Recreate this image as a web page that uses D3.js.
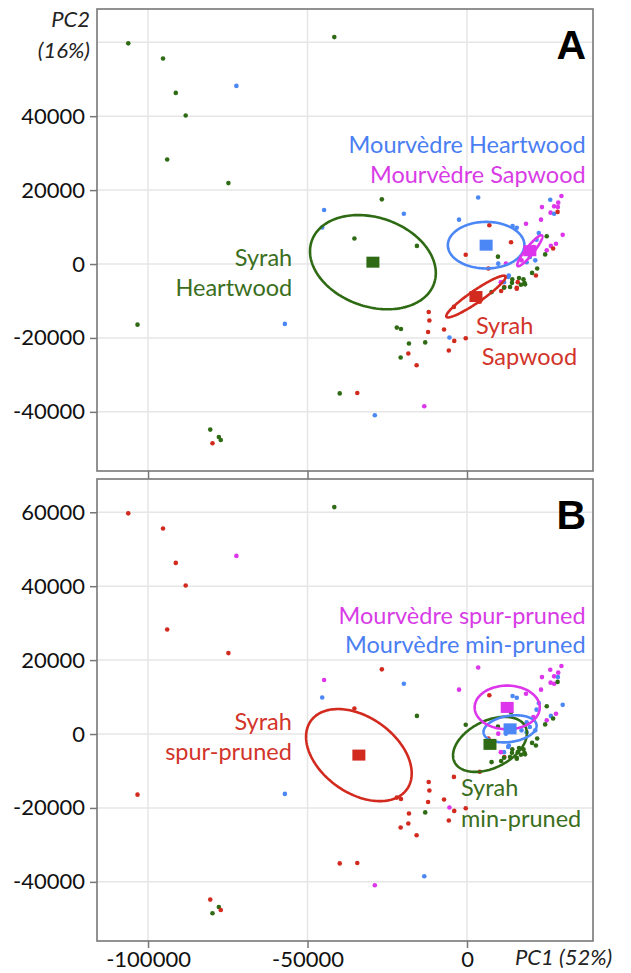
<!DOCTYPE html>
<html>
<head>
<meta charset="utf-8">
<script src="https://cdn.jsdelivr.net/npm/d3@7"></script>
<style>
  html, body { margin: 0; padding: 0; background: #fff; }
  svg { display: block; }
</style>
</head>
<body>
<svg id="chart" width="631" height="973"></svg>
<script>
// ---------------- DATA ----------------
const pc1Ticks = [-100000, -50000, 0];
const pc2GridA = [-40000, -20000, 0, 20000, 40000, 60000];
const pc2TicksA = [-40000, -20000, 0, 20000, 40000];
const pc2TicksB = [-40000, -20000, 0, 20000, 40000, 60000];

// [PC1, PC2, tissue group (panel A), pruning group (panel B)]
// SH Syrah Heartwood, SS Syrah Sapwood, MH Mourvèdre Heartwood, MS Mourvèdre Sapwood
// SSP Syrah spur-pruned, SMP Syrah min-pruned, MSP Mourvèdre spur-pruned, MMP Mourvèdre min-pruned
const samples = [
  [-106200, 59700, "SH", "SSP"], [-95300, 55600, "SH", "SSP"], [-91300, 46300, "SH", "SSP"],
  [-88200, 40200, "SH", "SSP"], [-94000, 28300, "SH", "SSP"], [-74800, 21900, "SH", "SSP"],
  [-72300, 48200, "MH", "MSP"], [-41600, 61400, "SH", "SMP"], [-103300, -16400, "SH", "SSP"],
  [-57100, -16200, "MH", "MMP"], [-80500, -44800, "SH", "SSP"], [-77800, -46800, "SH", "SMP"],
  [-77200, -47600, "SH", "SSP"], [-79800, -48500, "SS", "SMP"], [-44800, 14600, "MH", "MSP"],
  [-45400, 9900, "MH", "MMP"], [-26700, 17500, "SH", "SSP"], [-19800, 13600, "MH", "MMP"],
  [-35300, 6900, "SH", "SSP"], [-15700, 4900, "SH", "SMP"], [-39900, -35000, "SH", "SSP"],
  [-34400, -34900, "SS", "SSP"], [-28900, -40900, "MH", "MSP"], [-13400, -38500, "MS", "MMP"],
  [-22000, -17200, "SH", "SSP"], [-20700, -17600, "SH", "SSP"], [-12000, -13000, "SS", "SSP"],
  [-11800, -15300, "SS", "SSP"], [-12200, -18400, "SS", "SSP"], [-7200, -17700, "SS", "SSP"],
  [-5500, -19900, "MH", "MSP"], [-4000, -20800, "SS", "SSP"], [-400, -20100, "SS", "SSP"],
  [-5700, -23400, "SS", "SSP"], [-18200, -21500, "SH", "SSP"], [-13100, -21200, "SH", "SMP"],
  [-18400, -24200, "SS", "SSP"], [-20800, -25300, "SH", "SSP"], [-15800, -27400, "SS", "SSP"],
  [-4100, -11600, "SS", "SSP"], [4000, -10200, "SS", "SSP"],
  [3500, 18000, "MH", "MSP"], [-2500, 12000, "MH", "MSP"], [7000, 10500, "SS", "SSP"],
  [14300, 10300, "MH", "MMP"], [15600, 9800, "MH", "MMP"], [18500, 10900, "MS", "MSP"],
  [13800, 5900, "SS", "SMP"], [-400, 2500, "SS", "SMP"], [9700, 2000, "SH", "SMP"],
  [9800, 100, "MH", "MSP"], [12200, 100, "MS", "MMP"], [6700, -1200, "SS", "SSP"],
  [29600, 18400, "MS", "MSP"], [26100, 17400, "MH", "MSP"], [28600, 16600, "MS", "MSP"],
  [27300, 15600, "MS", "MSP"], [23500, 15400, "MS", "MSP"], [28500, 15400, "MS", "MMP"],
  [26200, 13900, "MS", "MSP"], [27300, 13600, "MH", "MSP"], [28400, 14100, "SS", "SMP"],
  [23200, 12000, "MS", "MSP"], [22500, 8400, "MH", "MMP"], [25000, 7500, "SH", "SMP"],
  [30000, 7900, "MS", "MMP"], [27900, 5500, "MS", "MSP"], [26300, 4900, "MS", "MMP"],
  [27000, 4200, "SS", "SMP"], [25000, 3700, "MS", "MSP"], [24500, 2600, "SH", "SMP"],
  [21800, 6600, "MH", "MMP"], [20800, 4600, "MS", "MSP"], [18700, 3200, "MS", "MMP"],
  [19700, 1900, "MH", "MMP"], [18700, 500, "MH", "MMP"], [17100, 1000, "MS", "MMP"],
  [21400, 1000, "MH", "MMP"], [22000, -1200, "SH", "SMP"], [20400, -2400, "SH", "SMP"],
  [21600, -3100, "SS", "SMP"], [12900, -3500, "MH", "MMP"], [14200, -4100, "SH", "SMP"],
  [16300, -3800, "SH", "SMP"], [17700, -4100, "SH", "SMP"], [15900, -4900, "SS", "SMP"],
  [16900, -5600, "SH", "SMP"], [18200, -5500, "SH", "SMP"], [14100, -5100, "SH", "SMP"],
  [11700, -6200, "SS", "SSP"], [13500, -6200, "SH", "SMP"], [15600, -6400, "SS", "SMP"],
  [7700, -7600, "SH", "SMP"], [11600, -4900, "MH", "MMP"], [10600, -4900, "MS", "MSP"],
  [11600, -6400, "SH", "SMP"], [15600, -6700, "SS", "SMP"], [18000, -5100, "SH", "SMP"],
  [13100, -3100, "MH", "MMP"], [10700, -7300, "SS", "SMP"]
];

// group centroids [PC1, PC2]
const centroidsA = { SH: [-29500, 500], SS: [2800, -8800], MH: [6000, 5100], MS: [19700, 3600] };
const centroidsB = { SSP: [-33900, -5700], SMP: [7200, -2800], MSP: [12600, 7200], MMP: [13500, 1400] };

// confidence ellipses: two conjugate semi-axes [dPC1, dPC2]
const ellipsesA = {
  SH: [[19200, -5700], [-4500, -11400]],
  SS: [[9250, 5490], [1070, -1340]],
  MH: [[12000, 0], [0, 6300]],
  MS: [[3810, 4140], [980, -670]]
};
const ellipsesB = {
  SSP: [[15100, -9200], [-6800, -8400]],
  SMP: [[11100, 4800], [3300, -5700]],
  MSP: [[10200, 0], [0, 5900]],
  MMP: [[8300, 1100], [610, -3500]]
};

const groupOrderA = ["SH", "SS", "MH", "MS"];
const groupOrderB = ["SSP", "SMP", "MMP", "MSP"];

// ---------------- STYLE / LAYOUT ----------------
const colors = {
  SH: "#2f6b14", SS: "#d22a1e", MH: "#4c87f6", MS: "#dd35ec",
  SSP: "#d22a1e", SMP: "#2f6b14", MSP: "#dd35ec", MMP: "#4c87f6"
};
const textColors = {
  SH: "#3a6e20", SS: "#d2342a", MH: "#4a7ef2", MS: "#d83ce6",
  SSP: "#d2342a", SMP: "#3a6e20", MSP: "#d83ce6", MMP: "#4a7ef2"
};
// labels: [text, PC1 anchor, PC2 baseline, anchor, group]
const labelsA = [
  ["Mourvèdre Heartwood", 37200, 30000, "end", "MH"],
  ["Mourvèdre Sapwood", 37200, 21900, "end", "MS"],
  ["Syrah", -54800, -500, "end", "SH"],
  ["Heartwood", -54800, -8600, "end", "SH"],
  ["Syrah", 2800, -18800, "start", "SS"],
  ["Sapwood", 4600, -27300, "start", "SS"]
];
const labelsB = [
  ["Mourvèdre spur-pruned", 37200, 29800, "end", "MSP"],
  ["Mourvèdre min-pruned", 37200, 21800, "end", "MMP"],
  ["Syrah", -54900, 1100, "end", "SSP"],
  ["spur-pruned", -54900, -6900, "end", "SSP"],
  ["Syrah", -1900, -16800, "start", "SMP"],
  ["min-pruned", -1900, -25200, "start", "SMP"]
];

const W = 631, H = 973;
const left = 97, right = 593;
const panelA = { top: 9, bottom: 471 };
const panelB = { top: 479, bottom: 941 };
const xDomain = [-116000, 39500];
const yDomain = [-56000, 69000];
const FONT = "Lato, 'Open Sans', sans-serif";

const svg = d3.select("#chart");
svg.append("rect").attr("width", W).attr("height", H).attr("fill", "#fff");

const x = d3.scaleLinear().domain(xDomain).range([left, right]);

function drawPanel(p) {
  const y = d3.scaleLinear().domain(yDomain).range([p.bottom, p.top]);
  const g = svg.append("g");

  // grid
  g.append("g").selectAll("line.gx").data(pc1Ticks).join("line")
    .attr("x1", d => x(d)).attr("x2", d => x(d))
    .attr("y1", p.top).attr("y2", p.bottom)
    .attr("stroke", "#e6e6e6").attr("stroke-width", 1.5);
  g.append("g").selectAll("line.gy").data(p.grid).join("line")
    .attr("x1", left).attr("x2", right)
    .attr("y1", d => y(d)).attr("y2", d => y(d))
    .attr("stroke", "#e6e6e6").attr("stroke-width", 1.5);

  // y axis
  const ya = g.append("g").attr("transform", `translate(${left},0)`)
    .call(d3.axisLeft(y).tickValues(p.yTicks).tickSize(7).tickPadding(5).tickFormat(d => String(d)));
  ya.select(".domain").remove();
  ya.selectAll(".tick line").attr("stroke", "#777").attr("stroke-width", 1.5);
  ya.selectAll(".tick text").attr("font-family", FONT).attr("font-size", 22).attr("fill", "#111");

  // x axis
  const xa = g.append("g").attr("transform", `translate(0,${p.bottom})`)
    .call(d3.axisBottom(x).tickValues(pc1Ticks).tickSize(p.showX ? 7 : 8).tickPadding(3)
      .tickFormat(d => p.showX ? String(d) : ""));
  xa.select(".domain").remove();
  xa.selectAll(".tick line").attr("stroke", "#777").attr("stroke-width", 1.5);
  xa.selectAll(".tick text").attr("font-family", FONT).attr("font-size", 22).attr("fill", "#111");

  // points
  g.append("g").selectAll("circle").data(samples).join("circle")
    .attr("cx", d => x(d[0])).attr("cy", d => y(d[1]))
    .attr("r", 2.3)
    .attr("fill", d => colors[d[p.key]]);

  // ellipses
  const line = d3.line().x(d => x(d[0])).y(d => y(d[1])).curve(d3.curveLinearClosed);
  const ts = d3.range(0, 2 * Math.PI, Math.PI / 90);
  p.order.forEach(k => {
    const c = p.centroids[k], e = p.ellipses[k];
    const pts = ts.map(t => [
      c[0] + e[0][0] * Math.cos(t) + e[1][0] * Math.sin(t),
      c[1] + e[0][1] * Math.cos(t) + e[1][1] * Math.sin(t)
    ]);
    g.append("path").attr("d", line(pts)).attr("fill", "none")
      .attr("stroke", colors[k]).attr("stroke-width", 2.6);
  });

  // centroids
  g.append("g").selectAll("rect").data(p.order).join("rect")
    .attr("x", k => x(p.centroids[k][0]) - 6.5)
    .attr("y", k => y(p.centroids[k][1]) - 5.5)
    .attr("width", 13).attr("height", 11)
    .attr("fill", k => colors[k]);

  // labels
  g.append("g").selectAll("text").data(p.labels).join("text")
    .attr("x", d => x(d[1])).attr("y", d => y(d[2]))
    .attr("text-anchor", d => d[3])
    .attr("font-family", FONT).attr("font-size", 23.5)
    .attr("fill", d => textColors[d[4]])
    .text(d => d[0]);

  // border
  g.append("rect").attr("x", left).attr("y", p.top)
    .attr("width", right - left).attr("height", p.bottom - p.top)
    .attr("fill", "none").attr("stroke", "#777").attr("stroke-width", 1.6);

  // panel letter
  g.append("text").attr("x", 586).attr("y", p.top + 49.5)
    .attr("text-anchor", "end")
    .attr("font-family", "'Liberation Sans', Arial, sans-serif").attr("font-weight", "bold")
    .attr("font-size", 41).attr("fill", "#000")
    .text(p.letter);
}

drawPanel({ ...panelA, grid: pc2GridA, yTicks: pc2TicksA, key: 2, order: groupOrderA,
  centroids: centroidsA, ellipses: ellipsesA, labels: labelsA, letter: "A", showX: false });
drawPanel({ ...panelB, grid: pc2TicksB, yTicks: pc2TicksB, key: 3, order: groupOrderB,
  centroids: centroidsB, ellipses: ellipsesB, labels: labelsB, letter: "B", showX: true });

// axis titles
const t = svg.append("g").attr("font-family", FONT).attr("font-style", "italic")
  .attr("font-size", 22).attr("fill", "#222");
t.append("text").attr("x", 90).attr("y", 27).attr("text-anchor", "end").text("PC2");
t.append("text").attr("x", 90).attr("y", 58).attr("text-anchor", "end").text("(16%)");
t.append("text").attr("x", 515).attr("y", 965).attr("text-anchor", "start").text("PC1 (52%)");
</script>
</body>
</html>
